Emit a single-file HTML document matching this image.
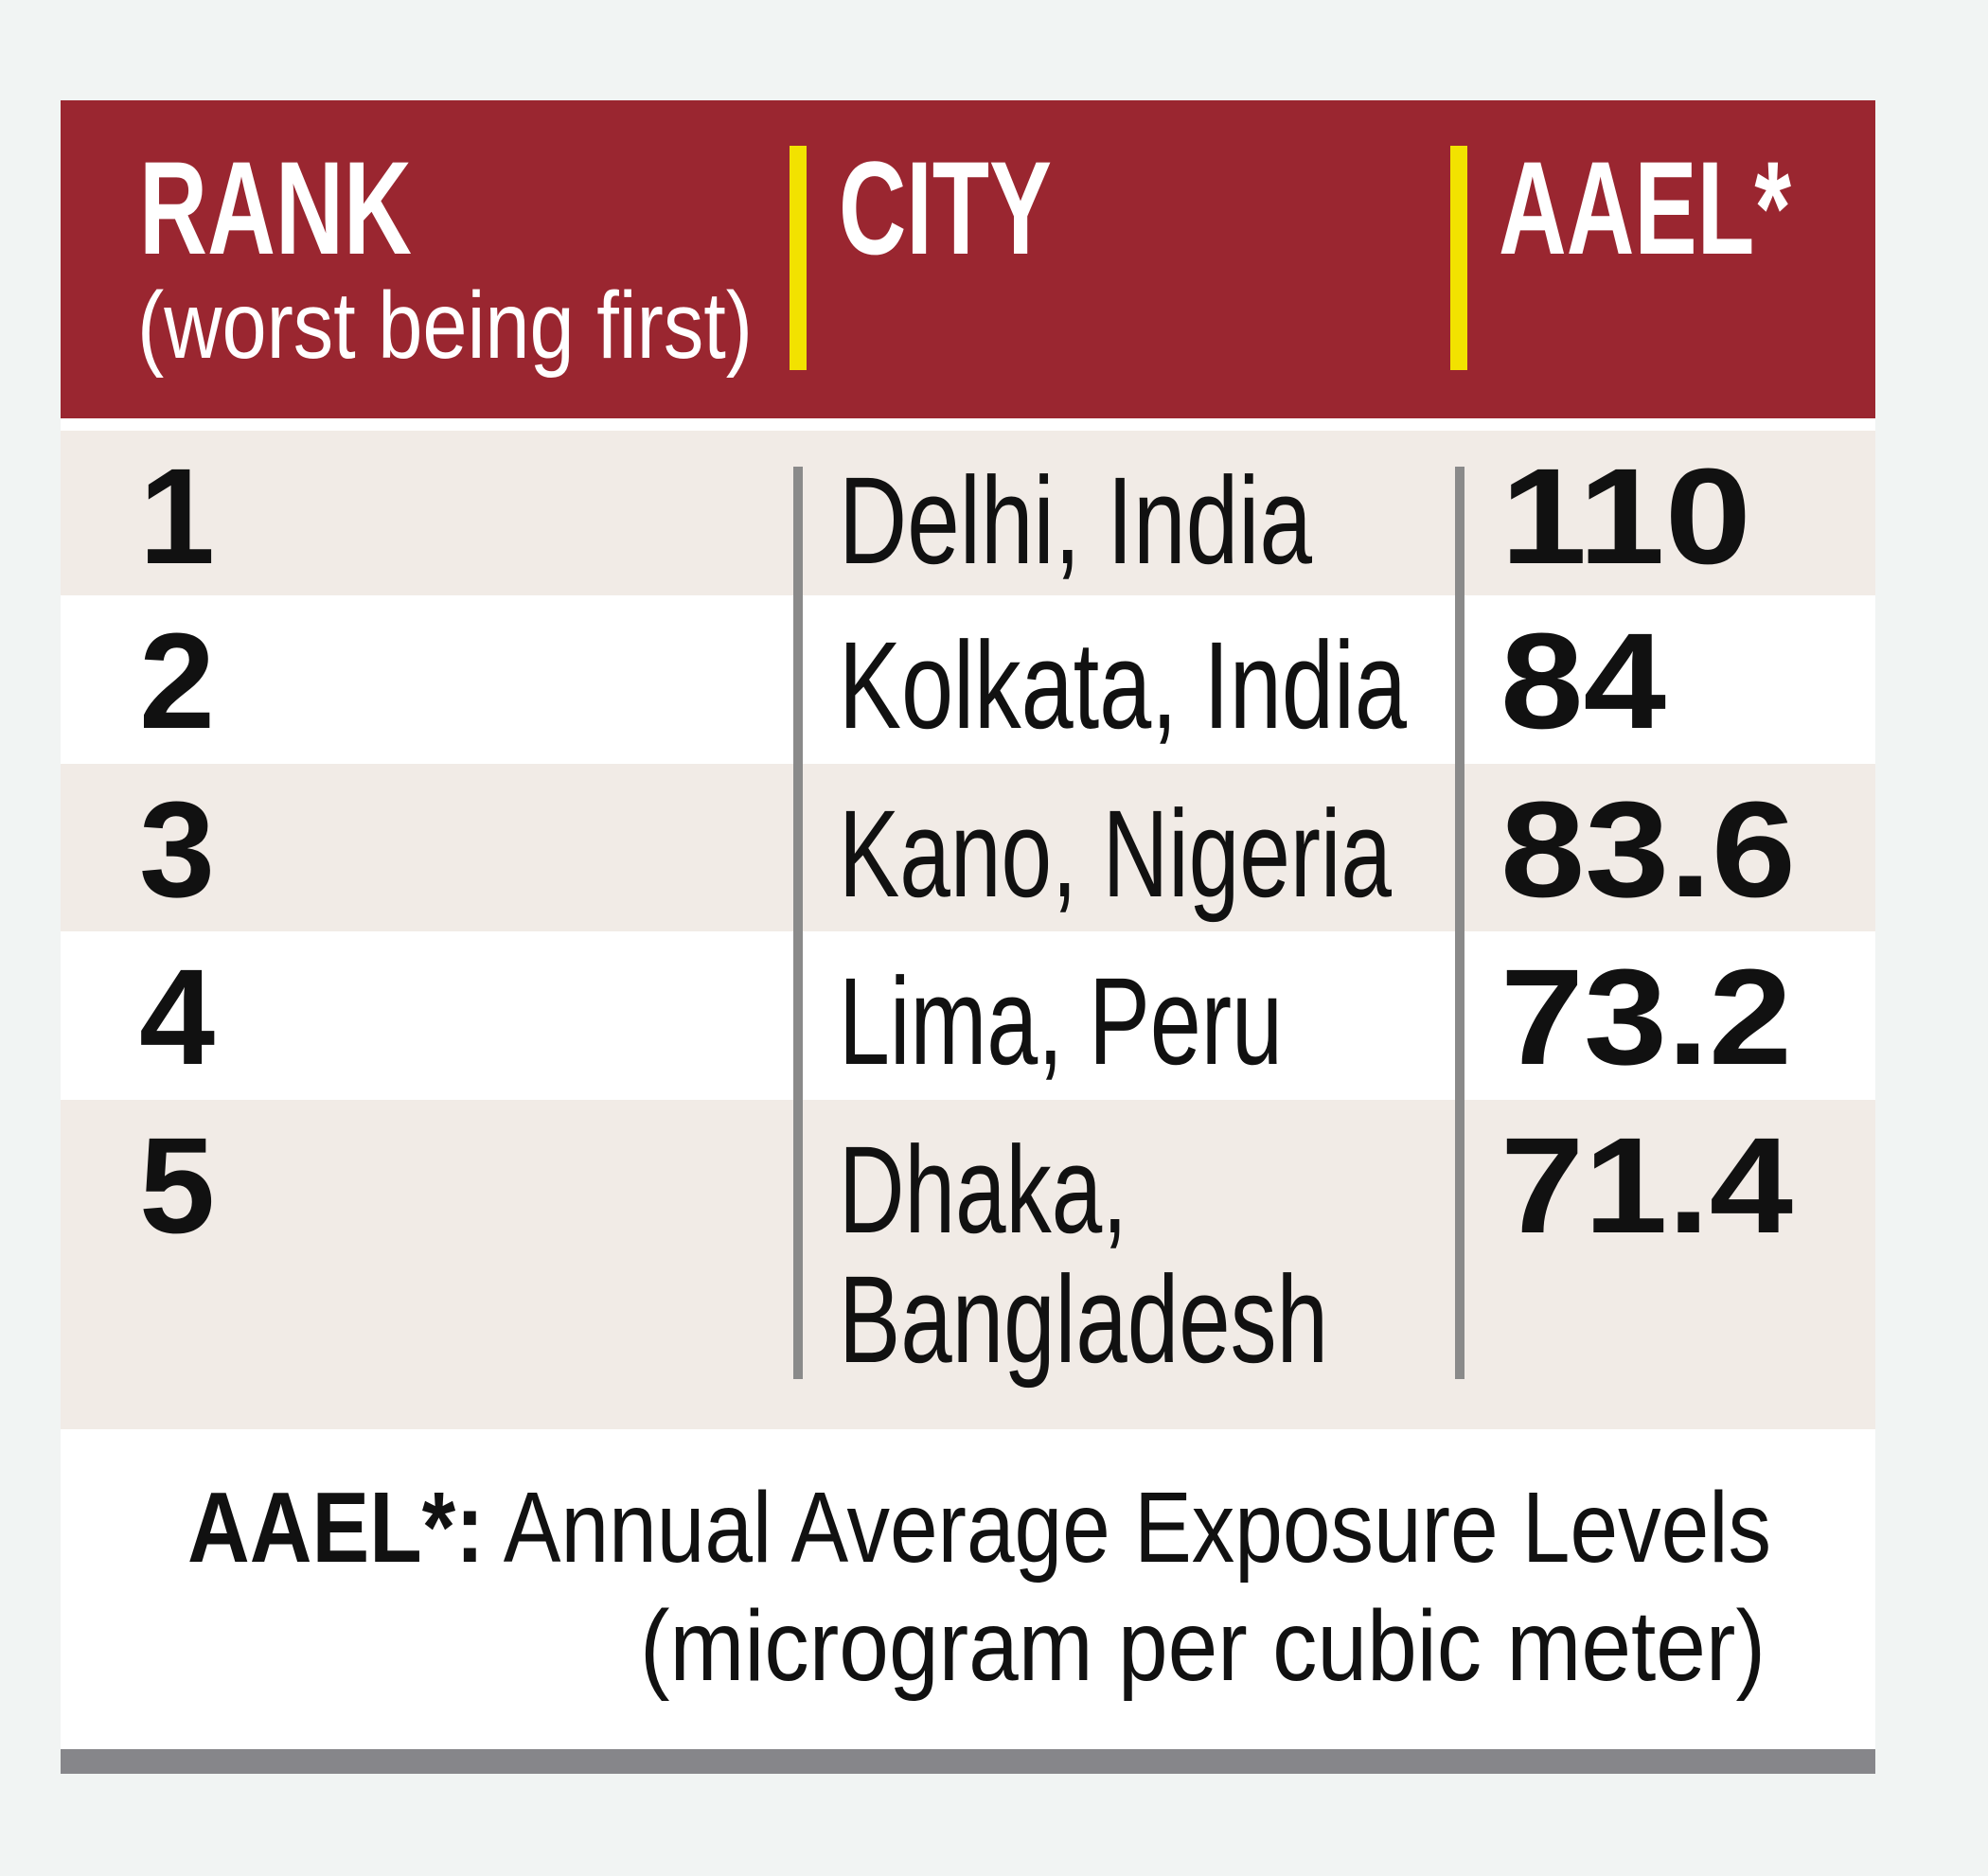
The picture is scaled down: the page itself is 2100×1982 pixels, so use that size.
<!DOCTYPE html>
<html><head><meta charset="utf-8"><style>
html,body{margin:0;padding:0;background:#f1f4f3;}
svg{display:block;}
text{font-family:"Liberation Sans",sans-serif;}
</style></head><body>
<svg width="2100" height="1982" viewBox="0 0 2100 1982">
<rect x="0" y="0" width="2100" height="1982" fill="#f1f4f3"/>
<rect x="64" y="106" width="1917" height="336" fill="#9a2630"/>
<rect x="64" y="442" width="1917" height="13" fill="#ffffff"/>
<rect x="834" y="154" width="18" height="237" fill="#f2e200"/>
<rect x="1532" y="154" width="18" height="237" fill="#f2e200"/>
<text x="147" y="268" font-size="140" font-weight="bold" fill="#fff" textLength="288" lengthAdjust="spacingAndGlyphs">RANK</text>
<text x="145" y="378" font-size="100" fill="#fff" textLength="650" lengthAdjust="spacingAndGlyphs">(worst being first)</text>
<text x="886" y="268" font-size="140" font-weight="bold" fill="#fff" textLength="225" lengthAdjust="spacingAndGlyphs">CITY</text>
<text x="1583" y="268" font-size="140" font-weight="bold" fill="#fff" textLength="309" lengthAdjust="spacingAndGlyphs">AAEL*</text>
<g id="rows"></g>
<rect x="838" y="493" width="10" height="964" fill="#8a8a8a"/>
<rect x="1537" y="493" width="10" height="964" fill="#8a8a8a"/>
<rect x="64" y="1510" width="1917" height="338" fill="#ffffff"/>
<text x="198" y="1650" font-size="106" fill="#111" textLength="1673" lengthAdjust="spacingAndGlyphs"><tspan font-weight="bold">AAEL*:</tspan> Annual Average Exposure Levels</text>
<text x="676" y="1775" font-size="106" fill="#111" textLength="1189" lengthAdjust="spacingAndGlyphs">(microgram per cubic meter)</text>
<rect x="64" y="1848" width="1917" height="26" fill="#86868a"/>
</svg>
<script>
const ranks=["1","2","3","4","5"];
const cities=[["Delhi, India"],["Kolkata, India"],["Kano, Nigeria"],["Lima, Peru"],["Dhaka,","Bangladesh"]];
const values=["110","84","83.6","73.2","71.4"];
const rowTops=[455,629,807,984,1162,1510];
const cityWidths=[[500],[600],[584],[469],[305,517]];
const valueWidths=[265,175,312,308,309];
const NS="http://www.w3.org/2000/svg";
const g=document.getElementById('rows');
function mk(tag,attrs){const e=document.createElementNS(NS,tag);for(const k in attrs)e.setAttribute(k,attrs[k]);return e;}
ranks.forEach((r,i)=>{
  const top=rowTops[i], h=rowTops[i+1]-top;
  const bg=mk('rect',{x:64,y:top,width:1917,height:h,fill:i%2===0?'#f1ebe6':'#ffffff'});
  
  
  g.appendChild(bg);
  const base=top+140;
  const t=mk('text',{x:147,y:base,'font-size':144,'font-weight':'bold',fill:'#111'});
  t.textContent=r;
  
  
  g.appendChild(t);
  cities[i].forEach((c,j)=>{
    const ct=mk('text',{x:886,y:base+j*137,'font-size':131,fill:'#111',textLength:cityWidths[i][j],lengthAdjust:'spacingAndGlyphs'});
    ct.textContent=c;
    
    
    g.appendChild(ct);
  });
  const vt=mk('text',{x:1585,y:base,'font-size':144,'font-weight':'bold',fill:'#111',textLength:valueWidths[i],lengthAdjust:'spacingAndGlyphs'});
  vt.textContent=values[i];
  
  
  g.appendChild(vt);
});
</script>
</body></html>
